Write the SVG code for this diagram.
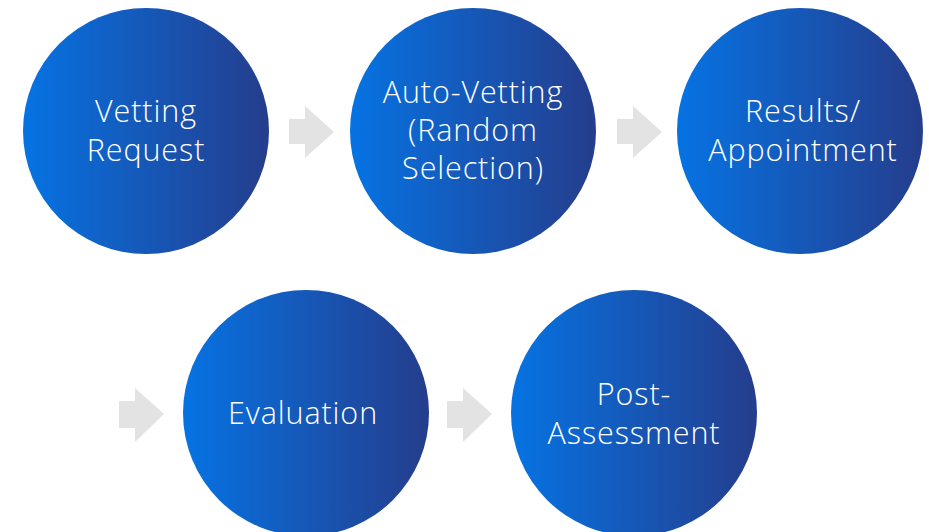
<svg xmlns="http://www.w3.org/2000/svg" width="929" height="532" viewBox="0 0 929 532">
<defs>
<linearGradient id="g" x1="0" y1="0" x2="1" y2="0">
<stop offset="0" stop-color="#0673E3"/>
<stop offset="1" stop-color="#253D8C"/>
</linearGradient>
<style>
.c{fill:url(#g)}
.t{fill:#fff;font-family:"Open Sans","Noto Sans","DejaVu Sans",sans-serif;font-size:30.5px;font-weight:300;letter-spacing:0.9px;text-anchor:middle}
.a{fill:#E3E3E3}
</style>
</defs>
<rect width="929" height="532" fill="#fff"/>
<g id="connectors">
<polygon class="a" points="289,119 305,119 305,106 334,132 305,158 305,144 289,144"/>
<polygon class="a" points="617,119 633,119 633,106 662,132 633,158 633,144 617,144"/>
<polygon class="a" points="119,401 135,401 135,388 164,414 135,442 135,428 119,428"/>
<polygon class="a" points="447,401 463,401 463,388 492,414 463,442 463,428 447,428"/>
</g>
<g id="n1"><circle class="c" cx="146" cy="131" r="123"/><text class="t" x="146" y="122">Vetting</text><text class="t" x="146" y="161">Request</text></g>
<g id="n2"><circle class="c" cx="473" cy="131" r="123"/><text class="t" x="473" y="103">Auto-Vetting</text><text class="t" x="473" y="141">(Random</text><text class="t" x="473" y="179">Selection)</text></g>
<g id="n3"><circle class="c" cx="800" cy="131" r="123"/><text class="t" x="803" y="122">Results/</text><text class="t" x="803" y="161">Appointment</text></g>
<g id="n4"><circle class="c" cx="306" cy="413" r="123"/><text class="t" x="303" y="424">Evaluation</text></g>
<g id="n5"><circle class="c" cx="634" cy="413" r="123"/><text class="t" x="634" y="405">Post-</text><text class="t" x="634" y="444">Assessment</text></g>
</svg>
